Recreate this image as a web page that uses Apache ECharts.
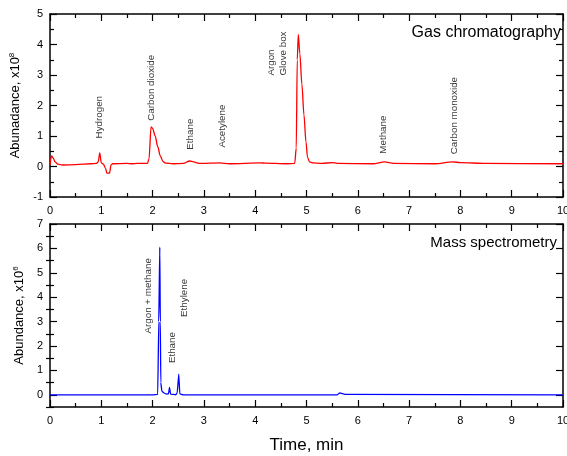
<!DOCTYPE html>
<html>
<head>
<meta charset="utf-8">
<script src="https://cdn.jsdelivr.net/npm/echarts@6/dist/echarts.min.js"></script>
<style>html,body{margin:0;padding:0;background:#fff}#c{width:567px;height:456px}</style>
</head>
<body>
<div id="c"></div>
<script>
// ---- Data ----
const gcTime  = [0.00,0.03,0.06,0.10,0.15,0.25,0.50,0.80,0.90,0.94,0.97,1.00,1.04,1.08,1.11,1.16,1.19,1.22,1.50,1.60,1.70,1.90,1.93,1.97,2.00,2.05,2.10,2.15,2.20,2.25,2.40,2.60,2.72,2.80,2.90,3.30,3.50,4.10,4.20,4.60,4.77,4.80,4.82,4.84,4.87,4.91,4.95,4.99,5.02,5.06,5.12,5.30,5.50,5.60,6.30,6.52,6.70,7.50,7.85,8.00,8.50,10.00];
const gcAbund = [0.05,0.35,0.28,0.15,0.08,0.05,0.06,0.09,0.10,0.15,0.45,0.12,0.08,-0.05,-0.22,-0.22,0.05,0.09,0.10,0.09,0.10,0.10,0.25,1.30,1.25,1.00,0.65,0.35,0.17,0.11,0.09,0.10,0.18,0.15,0.10,0.12,0.09,0.12,0.11,0.09,0.10,0.60,3.50,4.33,3.70,2.70,1.70,0.80,0.30,0.15,0.12,0.10,0.13,0.10,0.09,0.15,0.10,0.09,0.15,0.13,0.10,0.09];

const msTime  = [0.00,2.00,2.10,2.12,2.14,2.15,2.16,2.18,2.22,2.27,2.31,2.33,2.35,2.45,2.48,2.51,2.53,2.60,5.60,5.65,5.75,10.00];
const msAbund = [0.00,0.00,0.02,3.00,6.05,3.00,0.50,0.15,0.08,0.03,0.04,0.30,0.03,0.00,0.08,0.85,0.04,0.00,0.00,0.08,0.02,0.00];

const gcLabels  = ['Hydrogen','Carbon dioxide','Ethane','Acetylene','Argon\nGlove box','Methane','Carbon monoxide'];
const gcLabelX  = [0.97,1.97,2.74,3.35,4.44,6.50,7.88];
const gcLabelY  = [0.92,1.50,0.55,0.62,2.98,0.42,0.40];

const msLabels  = ['Argon + methane','Ethane','Ethylene'];
const msLabelX  = [1.91,2.39,2.61];
const msLabelY  = [2.51,1.30,3.19];

const msMajor = [0,1,2,3,4,5,6,7];
const msMinor = [-0.5,0.5,1.5,2.5,3.5,4.5,5.5,6.5];

// ---- Chart ----
const FONT = "'Liberation Sans', Arial, sans-serif";
const chart = echarts.init(document.getElementById('c'), null, {renderer:'canvas'});
const lineStyle = {color:'#000', width:1.5};
const tickMajor = {show:true, inside:true, length:7, lineStyle:{color:'#000', width:1.2}};
const tickMinor = {show:true, inside:true, length:4, lineStyle:{color:'#000', width:1.2}};
const lbl = {color:'#000', fontFamily:FONT, fontSize:11};

function xAx(grid, pos, showLabel, extra) {
  return Object.assign({
    type:'value', gridIndex:grid, position:pos, min:0, max:10, interval:1,
    axisLine:{show:true, onZero:false, lineStyle},
    axisTick:tickMajor,
    minorTick:Object.assign({splitNumber:2}, tickMinor),
    splitLine:{show:false}, minorSplitLine:{show:false},
    axisLabel:Object.assign({show:showLabel, margin:8}, lbl)
  }, extra||{});
}
const nameRich = {a:{fontFamily:FONT, fontSize:13, color:'#000', lineHeight:16},
                  s:{fontFamily:FONT, fontSize:8, color:'#000', verticalAlign:'top', lineHeight:16}};

const option = {
  animation:false,
  grid:[
    {left:50, top:14, width:513, height:183, containLabel:false, outerBoundsMode:'none'},
    {left:50, top:224, width:513, height:183, containLabel:false, outerBoundsMode:'none'}
  ],
  xAxis:[
    xAx(0,'bottom',true),
    xAx(0,'top',false),
    xAx(1,'bottom',true,{name:'Time, min', nameLocation:'middle', nameGap:30,
      nameTextStyle:{color:'#000', fontFamily:FONT, fontSize:17}}),
    xAx(1,'top',false)
  ],
  yAxis:[
    {type:'value', gridIndex:0, position:'left', min:-1, max:5, interval:1,
      axisLine:{show:true, onZero:false, lineStyle}, axisTick:tickMajor,
      minorTick:Object.assign({splitNumber:2}, tickMinor),
      splitLine:{show:false}, axisLabel:Object.assign({margin:7}, lbl),
      name:'{a|Abunadance, x10}{s|8}', nameLocation:'middle', nameGap:18,
      nameTextStyle:{rich:nameRich}},
    {type:'value', gridIndex:0, position:'right', min:-1, max:5, interval:1,
      axisLine:{show:true, onZero:false, lineStyle}, axisTick:tickMajor,
      minorTick:Object.assign({splitNumber:2}, tickMinor),
      splitLine:{show:false}, axisLabel:{show:false}},
    {type:'value', gridIndex:1, position:'left', min:-0.5, max:7, interval:0.5,
      axisLine:{show:true, onZero:false, lineStyle},
      axisTick:Object.assign({customValues:msMajor}, tickMajor),
      splitLine:{show:false}, axisLabel:Object.assign({margin:7, customValues:msMajor}, lbl),
      name:'{a|Abundance, x10}{s|6}', nameLocation:'middle', nameGap:17,
      nameTextStyle:{rich:nameRich}},
    {type:'value', gridIndex:1, position:'left', min:-0.5, max:7, interval:0.5,
      axisLine:{show:false}, axisTick:Object.assign({customValues:msMinor}, tickMinor),
      splitLine:{show:false}, axisLabel:{show:false}},
    {type:'value', gridIndex:1, position:'right', min:-0.5, max:7, interval:0.5,
      axisLine:{show:true, onZero:false, lineStyle},
      axisTick:Object.assign({customValues:msMajor}, tickMajor),
      splitLine:{show:false}, axisLabel:{show:false}},
    {type:'value', gridIndex:1, position:'right', min:-0.5, max:7, interval:0.5,
      axisLine:{show:false}, axisTick:Object.assign({customValues:msMinor}, tickMinor),
      splitLine:{show:false}, axisLabel:{show:false}}
  ],
  series:[
    {type:'line', xAxisIndex:0, yAxisIndex:0, showSymbol:false, smooth:0.3, smoothMonotone:'x',
      lineStyle:{color:'#ff0000', width:1.3}, data:gcTime.map((t,i)=>[t,gcAbund[i]])},
    {type:'line', xAxisIndex:2, yAxisIndex:2, showSymbol:false, smooth:0.1, smoothMonotone:'x',
      lineStyle:{color:'#0000ff', width:1.3}, data:msTime.map((t,i)=>[t,msAbund[i]])},
    {type:'scatter', xAxisIndex:0, yAxisIndex:0, symbolSize:0, silent:true,
      data:gcLabels.map((n,i)=>({value:[gcLabelX[i],gcLabelY[i]], name:n})),
      label:{show:true, position:[0,0], rotate:90, align:'left', verticalAlign:'middle',
        formatter:p=>p.name, color:'#000', fontFamily:FONT, fontSize:9.8, lineHeight:12}},
    {type:'scatter', xAxisIndex:2, yAxisIndex:2, symbolSize:0, silent:true,
      data:msLabels.map((n,i)=>({value:[msLabelX[i],msLabelY[i]], name:n})),
      label:{show:true, position:[0,0], rotate:90, align:'left', verticalAlign:'middle',
        formatter:p=>p.name, color:'#000', fontFamily:FONT, fontSize:9.8, lineHeight:12}}
  ],
  graphic:[
    {type:'text', x:561, y:33, style:{text:'Gas chromatography', fill:'#000', font:'16px '+FONT, textAlign:'right', textVerticalAlign:'middle'}},
    {type:'text', x:557, y:243, style:{text:'Mass spectrometry', fill:'#000', font:'15px '+FONT, textAlign:'right', textVerticalAlign:'middle'}}
  ]
};
chart.setOption(option);
</script>
</body>
</html>
